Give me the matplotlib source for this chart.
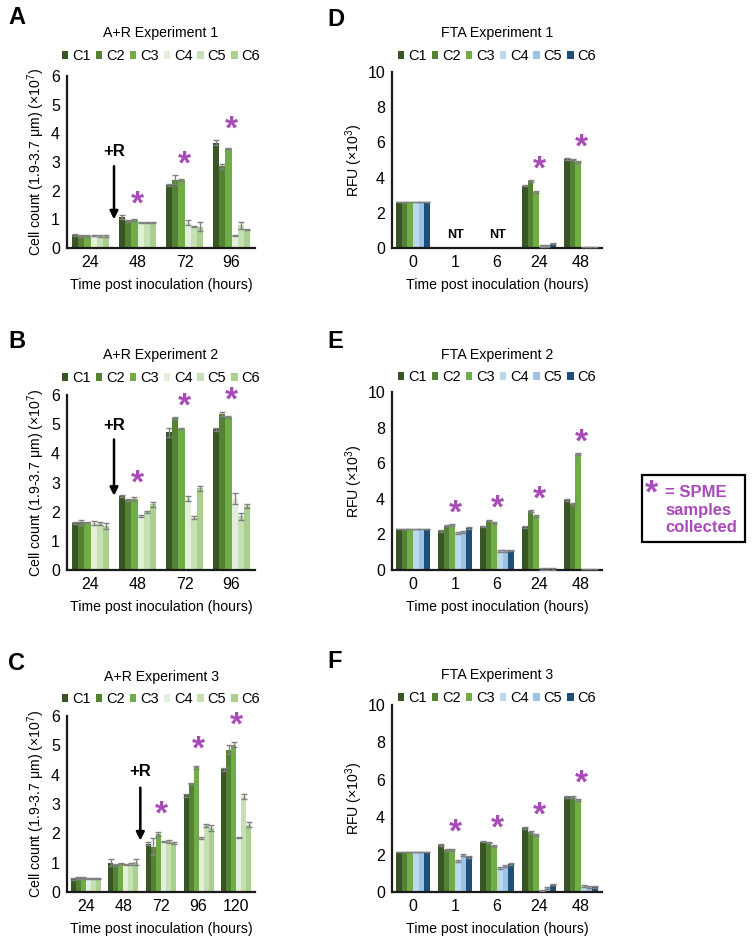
import numpy as np
import matplotlib
matplotlib.use('Agg')
import matplotlib.pyplot as plt
from matplotlib.patches import Rectangle

plt.rcParams['font.family'] = ['Liberation Sans', 'DejaVu Sans']
plt.rcParams['mathtext.fontset'] = 'custom'
plt.rcParams['mathtext.rm'] = 'Liberation Sans'

conds = ['C1', 'C2', 'C3', 'C4', 'C5', 'C6']

# A+R experiments: rows = C1..C6, columns = time points
ar1_times = ['24', '48', '72', '96']
ar1 = [[0.45, 1.08, 2.20, 3.68],
       [0.42, 0.95, 2.38, 2.85],
       [0.42, 0.98, 2.37, 3.47],
       [0.43, 0.90, 0.88, 0.45],
       [0.42, 0.90, 0.75, 0.80],
       [0.42, 0.90, 0.75, 0.65]]
ar1_err = [[0.03, 0.08, 0.03, 0.08],
           [0.02, 0.03, 0.15, 0.08],
           [0.02, 0.03, 0.03, 0.02],
           [0.02, 0.02, 0.08, 0.02],
           [0.02, 0.02, 0.03, 0.12],
           [0.02, 0.02, 0.15, 0.02]]
ar1_stars = ['48', '72', '96']

ar2_times = ['24', '48', '72', '96']
ar2 = [[1.60, 2.55, 4.72, 4.83],
       [1.63, 2.40, 5.20, 5.35],
       [1.63, 2.43, 4.85, 5.25],
       [1.60, 1.85, 2.45, 2.45],
       [1.60, 1.98, 1.80, 1.85],
       [1.50, 2.25, 2.80, 2.20]]
ar2_err = [[0.03, 0.03, 0.15, 0.05],
           [0.07, 0.03, 0.03, 0.08],
           [0.03, 0.08, 0.03, 0.03],
           [0.07, 0.03, 0.10, 0.18],
           [0.05, 0.03, 0.05, 0.12],
           [0.10, 0.08, 0.08, 0.08]]
ar2_stars = ['48', '72', '96']

ar3_times = ['24', '48', '72', '96', '120']
ar3 = [[0.45, 1.00, 1.65, 3.30, 4.18],
       [0.48, 0.93, 1.55, 3.70, 4.85],
       [0.48, 0.97, 1.98, 4.25, 5.02],
       [0.46, 0.93, 1.72, 1.85, 1.85],
       [0.46, 0.95, 1.73, 2.27, 3.25],
       [0.46, 1.03, 1.68, 2.18, 2.30]]
ar3_err = [[0.03, 0.12, 0.05, 0.05, 0.05],
           [0.03, 0.03, 0.30, 0.02, 0.15],
           [0.03, 0.03, 0.08, 0.05, 0.08],
           [0.02, 0.02, 0.03, 0.03, 0.02],
           [0.02, 0.03, 0.05, 0.05, 0.08],
           [0.02, 0.10, 0.03, 0.10, 0.07]]
ar3_stars = ['72', '96', '120']

# FTA experiments (RFU x10^3); nan = not tested
fta_times = ['0', '1', '6', '24', '48']
fta1 = [[2.6, np.nan, np.nan, 3.55, 5.05],
        [2.6, np.nan, np.nan, 3.80, 5.03],
        [2.6, np.nan, np.nan, 3.20, 4.88],
        [2.6, np.nan, np.nan, 0.10, 0.02],
        [2.6, np.nan, np.nan, 0.12, 0.02],
        [2.6, np.nan, np.nan, 0.25, 0.02]]
fta1_stars = ['24', '48']
fta1_nt = ['1', '6']

fta2 = [[2.3, 2.20, 2.45, 2.42, 3.92],
        [2.3, 2.50, 2.78, 3.30, 3.70],
        [2.3, 2.52, 2.65, 3.02, 6.50],
        [2.3, 2.10, 1.05, 0.05, 0.02],
        [2.3, 2.12, 1.08, 0.05, 0.02],
        [2.3, 2.35, 1.10, 0.05, 0.02]]
fta2_stars = ['1', '6', '24', '48']

fta3 = [[2.15, 2.50, 2.70, 3.40, 5.10],
        [2.15, 2.25, 2.65, 3.20, 5.10],
        [2.15, 2.25, 2.45, 3.05, 4.90],
        [2.15, 1.65, 1.30, 0.08, 0.30],
        [2.15, 2.00, 1.38, 0.20, 0.25],
        [2.15, 1.88, 1.50, 0.40, 0.28]]
fta3_stars = ['1', '6', '24', '48']
fta_err = [0.0, 0.05, 0.05, 0.05, 0.05]

green = ['#375623', '#548235', '#70ad47', '#e2efda', '#c6e0b4', '#a9d08e']
blue = ['#375623', '#548235', '#70ad47', '#bdd7ee', '#9dc3e6', '#1f4e79']
star_col = '#a84bb8'

W, H = 753, 941
fig = plt.figure(figsize=(W / 100, H / 100), dpi=100)


def px_axes(left, right, top, bottom):
    return fig.add_axes([left / W, 1 - bottom / H, (right - left) / W, (bottom - top) / H])


def bar_panel(ax, times, vals, errs, colors, ymax, ystep, stars, star_pad):
    vals = np.array(vals, dtype=float)
    x = np.arange(len(times))
    bw = 0.8 / 6
    for i in range(6):
        xi = x - 0.4 + bw * (i + 0.5)
        ax.bar(xi, vals[i], bw, color=colors[i], label=conds[i], zorder=2)
        ax.errorbar(xi, vals[i], yerr=errs[i], fmt='none', ecolor='#808080',
                    elinewidth=1, capsize=2, capthick=1, zorder=3)
    for t in stars:
        j = times.index(t)
        top = np.nanmax(vals[:, j] + np.array(errs)[:, j])
        ax.text(j, top + star_pad, '*', color=star_col, fontsize=24,
                fontweight='bold', ha='center', va='center')
    ax.set_xlim(-0.5, len(times) - 0.5)
    ax.set_ylim(0, ymax)
    ax.set_yticks(np.arange(0, ymax + 0.01, ystep))
    ax.set_xticks(x)
    ax.set_xticklabels(times)
    ax.tick_params(length=0, labelsize=11.5, pad=5)
    for s in ['top', 'right']:
        ax.spines[s].set_visible(False)
    for s in ['left', 'bottom']:
        ax.spines[s].set_linewidth(1.6)
        ax.spines[s].set_color('#1a1a1a')
    ax.set_xlabel('Time post inoculation (hours)', fontsize=10.2, labelpad=6)


def legend_title(ax, title, cx, ty, ly):
    fig.text(cx / W, 1 - ty / H, title, ha='center', va='center', fontsize=10.2)
    ax.legend(loc='center', bbox_to_anchor=(cx / W, 1 - ly / H), bbox_transform=fig.transFigure,
              ncol=6, frameon=False, fontsize=10.5, handlelength=0.45, handleheight=0.45,
              handletextpad=0.25, columnspacing=0.35, borderpad=0)


ar_ylabel = r'Cell count (1.9-3.7 μm) (×10$^{7}$)'
fta_ylabel = r'RFU (×10$^{3}$)'
arr = dict(arrowstyle='-|>', color='black', lw=1.8, mutation_scale=12)

# A
ax = px_axes(67, 255, 76, 248)
bar_panel(ax, ar1_times, ar1, ar1_err, green, 6, 1, ar1_stars, 0.35)
ax.set_ylabel(ar_ylabel, fontsize=10.2, labelpad=3)
legend_title(ax, 'A+R Experiment 1', 161, 33, 56)
ax.annotate('', xy=(0.5, 0.9), xytext=(0.5, 2.95), arrowprops=arr)
ax.text(0.5, 3.35, '+R', ha='center', va='center', fontsize=12, fontweight='bold')

# B
ax = px_axes(67, 255, 395, 570)
bar_panel(ax, ar2_times, ar2, ar2_err, green, 6, 1, ar2_stars, 0.35)
ax.set_ylabel(ar_ylabel, fontsize=10.2, labelpad=3)
legend_title(ax, 'A+R Experiment 2', 161, 355, 378)
ax.annotate('', xy=(0.5, 2.45), xytext=(0.5, 4.57), arrowprops=arr)
ax.text(0.5, 4.97, '+R', ha='center', va='center', fontsize=12, fontweight='bold')

# C
ax = px_axes(67, 255, 716, 892)
bar_panel(ax, ar3_times, ar3, ar3_err, green, 6, 1, ar3_stars, 0.55)
ax.set_ylabel(ar_ylabel, fontsize=10.2, labelpad=3)
legend_title(ax, 'A+R Experiment 3', 161, 677, 699)
ax.annotate('', xy=(1.45, 1.66), xytext=(1.45, 3.65), arrowprops=arr)
ax.text(1.45, 4.1, '+R', ha='center', va='center', fontsize=12, fontweight='bold')

# D
ax = px_axes(392, 602, 72, 248)
bar_panel(ax, fta_times, fta1, [fta_err] * 6, blue, 10, 2, fta1_stars, 0.6)
ax.set_ylabel(fta_ylabel, fontsize=10.2, labelpad=2)
legend_title(ax, 'FTA Experiment 1', 497, 33, 56)
for t in fta1_nt:
    ax.text(fta_times.index(t), 0.75, 'NT', ha='center', va='center', fontsize=9, fontweight='bold')

# E
ax = px_axes(392, 602, 392, 570)
bar_panel(ax, fta_times, fta2, [fta_err] * 6, blue, 10, 2, fta2_stars, 0.6)
ax.set_ylabel(fta_ylabel, fontsize=10.2, labelpad=2)
legend_title(ax, 'FTA Experiment 2', 497, 355, 377)

# F
ax = px_axes(392, 602, 705, 892)
bar_panel(ax, fta_times, fta3, [fta_err] * 6, blue, 10, 2, fta3_stars, 0.6)
ax.set_ylabel(fta_ylabel, fontsize=10.2, labelpad=2)
legend_title(ax, 'FTA Experiment 3', 497, 675, 698)

# panel letters
for letter, x, y in [('A', 8, 18), ('B', 8, 342), ('C', 8, 663),
                     ('D', 327, 20), ('E', 327, 342), ('F', 327, 662)]:
    fig.text(x / W, 1 - y / H, letter, fontsize=17, fontweight='bold', va='center', ha='left')

# key box
fig.patches.append(Rectangle((642 / W, 1 - 542 / H), 103 / W, 67 / H, transform=fig.transFigure,
                             fill=False, edgecolor='black', linewidth=1.6))
fig.text(651 / W, 1 - 494 / H, '*', color=star_col, fontsize=24, fontweight='bold', ha='center', va='center')
fig.text(665 / W, 1 - 510 / H, '= SPME\nsamples\ncollected', color=star_col, fontsize=12,
         fontweight='bold', ha='left', va='center', linespacing=1.2)

fig.savefig('out.png', dpi=100)
